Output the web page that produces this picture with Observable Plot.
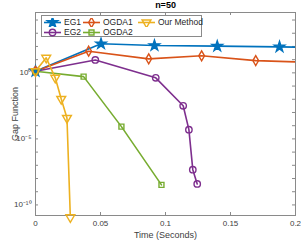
<!DOCTYPE html>
<html>
<head>
<meta charset="utf-8">
<script src="https://cdn.jsdelivr.net/npm/d3@7"></script>
<script src="https://cdn.jsdelivr.net/npm/@observablehq/plot@0.6"></script>
<style>
  body { margin: 0; background: #fff; }
  #wrap { position: relative; width: 301px; height: 242px; font-family: "Liberation Sans", Arial, sans-serif; }
  #legend { position: absolute; left: 41px; top: 15px; width: 161px; height: 22px; background: #fff; border: 1px solid #8a8a8a; box-sizing: border-box; }
  .item { position: absolute; display: flex; align-items: center; font-size: 8.5px; color: #262626; white-space: nowrap; }
  .item svg { display: block; margin-right: 2px; }
</style>
</head>
<body>
<div id="wrap"><div id="chart"></div><div id="legend"></div></div>
<script>
const title = "n=50";
const xLabel = "Time (Seconds)";
const yLabel = "Gap Function";
const xTicks = [0, 0.05, 0.1, 0.15, 0.2];
const yMinor = [1e-10, 1e-9, 1e-8, 1e-7, 1e-6, 1e-5, 1e-4, 1e-3, 1e-2, 1e-1, 1, 10, 100, 1e3, 1e4];
const yTicks = [1e-10, 1e-5, 1];
const yTickLabels = {"-10": "10\u207B\u00B9\u2070", "-5": "10\u207B\u2075", "0": "10\u2070"};

const seriesNames = ["EG1", "EG2", "OGDA1", "OGDA2", "Our Method"];
const seriesColors = ["#0072BD", "#7E2F8E", "#D95319", "#77AC30", "#EDB120"];

const eg1Time = [0, 0.0504, 0.0915, 0.1398, 0.1877, 0.235];
const eg1Gap  = [1.32, 158, 117, 105, 93, 79];
const eg2Time = [0, 0.046, 0.0925, 0.1136, 0.118, 0.121, 0.1244];
const eg2Gap  = [1.32, 9.5, 0.42, 3.2e-3, 5.0e-5, 4.7e-8, 3.9e-9];
const ogda1Time = [0, 0.0409, 0.0871, 0.1278, 0.1694, 0.215];
const ogda1Gap  = [1.32, 43.7, 11.5, 19.5, 8.5, 6.0];
const ogda2Time = [0, 0.037, 0.0661, 0.0969];
const ogda2Gap  = [1.32, 0.52, 8.5e-5, 3.3e-9];
const ourTime = [0, 0.00825, 0.0152, 0.0198, 0.0242, 0.0268];
const ourGap  = [1.32, 13.8, 0.42, 0.0105, 3.8e-4, 1.15e-11];

const downTriangle = {
  draw(context, size) {
    const y = -Math.sqrt(size / (Math.sqrt(3) * 3));
    context.moveTo(0, -2 * y);
    context.lineTo(-Math.sqrt(3) * y, y);
    context.lineTo(Math.sqrt(3) * y, y);
    context.closePath();
  }
};
const symbols = [d3.symbolStar, d3.symbolCircle, d3.symbolDiamond, d3.symbolSquare, downTriangle];
const symbolR = [3.3, 3.2, 3.0, 2.8, 3.3];
const symbolFilled = [true, false, false, false, false];

const times = [eg1Time, eg2Time, ogda1Time, ogda2Time, ourTime];
const gaps = [eg1Gap, eg2Gap, ogda1Gap, ogda2Gap, ourGap];

const W = 301, H = 242, mL = 35, mR = 6, mT = 12, mB = 27;
const frameW = W - mL - mR, frameH = H - mT - mB;
const axisColor = "#8a8a8a";

const marks = [];
seriesNames.forEach((name, i) => {
  const data = times[i].map((t, j) => ({t, g: gaps[i][j]}));
  marks.push(Plot.line(data, {x: "t", y: "g", stroke: seriesColors[i], strokeWidth: 1.6, clip: true}));
});
seriesNames.forEach((name, i) => {
  const data = times[i].map((t, j) => ({t, g: gaps[i][j]})).filter(d => d.t <= 0.2);
  marks.push(Plot.dot(data, {x: "t", y: "g", symbol: symbols[i], r: symbolR[i], stroke: seriesColors[i],
    fill: symbolFilled[i] ? seriesColors[i] : "none", strokeWidth: 1.4}));
});

const chart = Plot.plot({
  width: W, height: H,
  marginLeft: mL, marginRight: mR, marginTop: mT, marginBottom: mB,
  style: {fontFamily: "Liberation Sans, Arial, sans-serif", fontSize: "8px", color: "#404040", background: "white", overflow: "visible"},
  x: {domain: [0, 0.2]},
  y: {type: "log", domain: [Math.pow(10, -10.8), Math.pow(10, 4.57)]},
  marks: [
    Plot.ruleX(xTicks, {x: d => d, stroke: axisColor, insetTop: frameH - 3}),
    Plot.ruleX(xTicks, {x: d => d, stroke: axisColor, insetBottom: frameH - 3}),
    Plot.ruleY(yMinor, {y: d => d, stroke: axisColor, insetRight: frameW - 3}),
    Plot.ruleY(yMinor, {y: d => d, stroke: axisColor, insetLeft: frameW - 3}),
    Plot.frame({stroke: axisColor}),
    Plot.axisX({ticks: xTicks, tickSize: 0, tickPadding: 5, tickFormat: d => String(d), fontSize: 8,
      label: xLabel, labelAnchor: "center", labelArrow: "none", labelOffset: 22, color: "#404040"}),
    Plot.axisY({ticks: yTicks, tickSize: 0, tickPadding: 4, tickFormat: d => yTickLabels[String(Math.round(Math.log10(d)))], fontSize: 8,
      label: yLabel, labelAnchor: "center", labelArrow: "none", labelOffset: 24, color: "#404040"}),
    ...marks,
    Plot.text([title], {frameAnchor: "top", dy: -7, lineAnchor: "middle", fontWeight: "bold", fontSize: 9, fill: "#000"})
  ]
});
chart.querySelectorAll("[aria-label='x-axis label'] text, [aria-label='y-axis label'] text").forEach(t => t.style.fontSize = "9px");
document.getElementById("chart").appendChild(chart);

// Legend (column-major: 3 columns, 2 rows)
const legend = document.getElementById("legend");
const colX = [1, 40, 95];
const rowY = [1, 11];
seriesNames.forEach((name, i) => {
  const col = Math.floor(i / 2), row = i % 2;
  const div = document.createElement("div");
  div.className = "item";
  div.style.left = colX[col] + "px";
  div.style.top = rowY[row] + "px";
  const s = d3.create("svg").attr("width", 19).attr("height", 9);
  s.append("line").attr("x1", 1).attr("x2", 18).attr("y1", 4.5).attr("y2", 4.5)
    .attr("stroke", seriesColors[i]).attr("stroke-width", 1.6);
  const area = Math.PI * symbolR[i] * symbolR[i];
  s.append("path").attr("transform", "translate(9.5,4.5)")
    .attr("d", d3.symbol(symbols[i], area)())
    .attr("stroke", seriesColors[i]).attr("stroke-width", 1.4)
    .attr("fill", symbolFilled[i] ? seriesColors[i] : "none");
  div.appendChild(s.node());
  const span = document.createElement("span");
  span.textContent = name;
  div.appendChild(span);
  legend.appendChild(div);
});
</script>
</body>
</html>
